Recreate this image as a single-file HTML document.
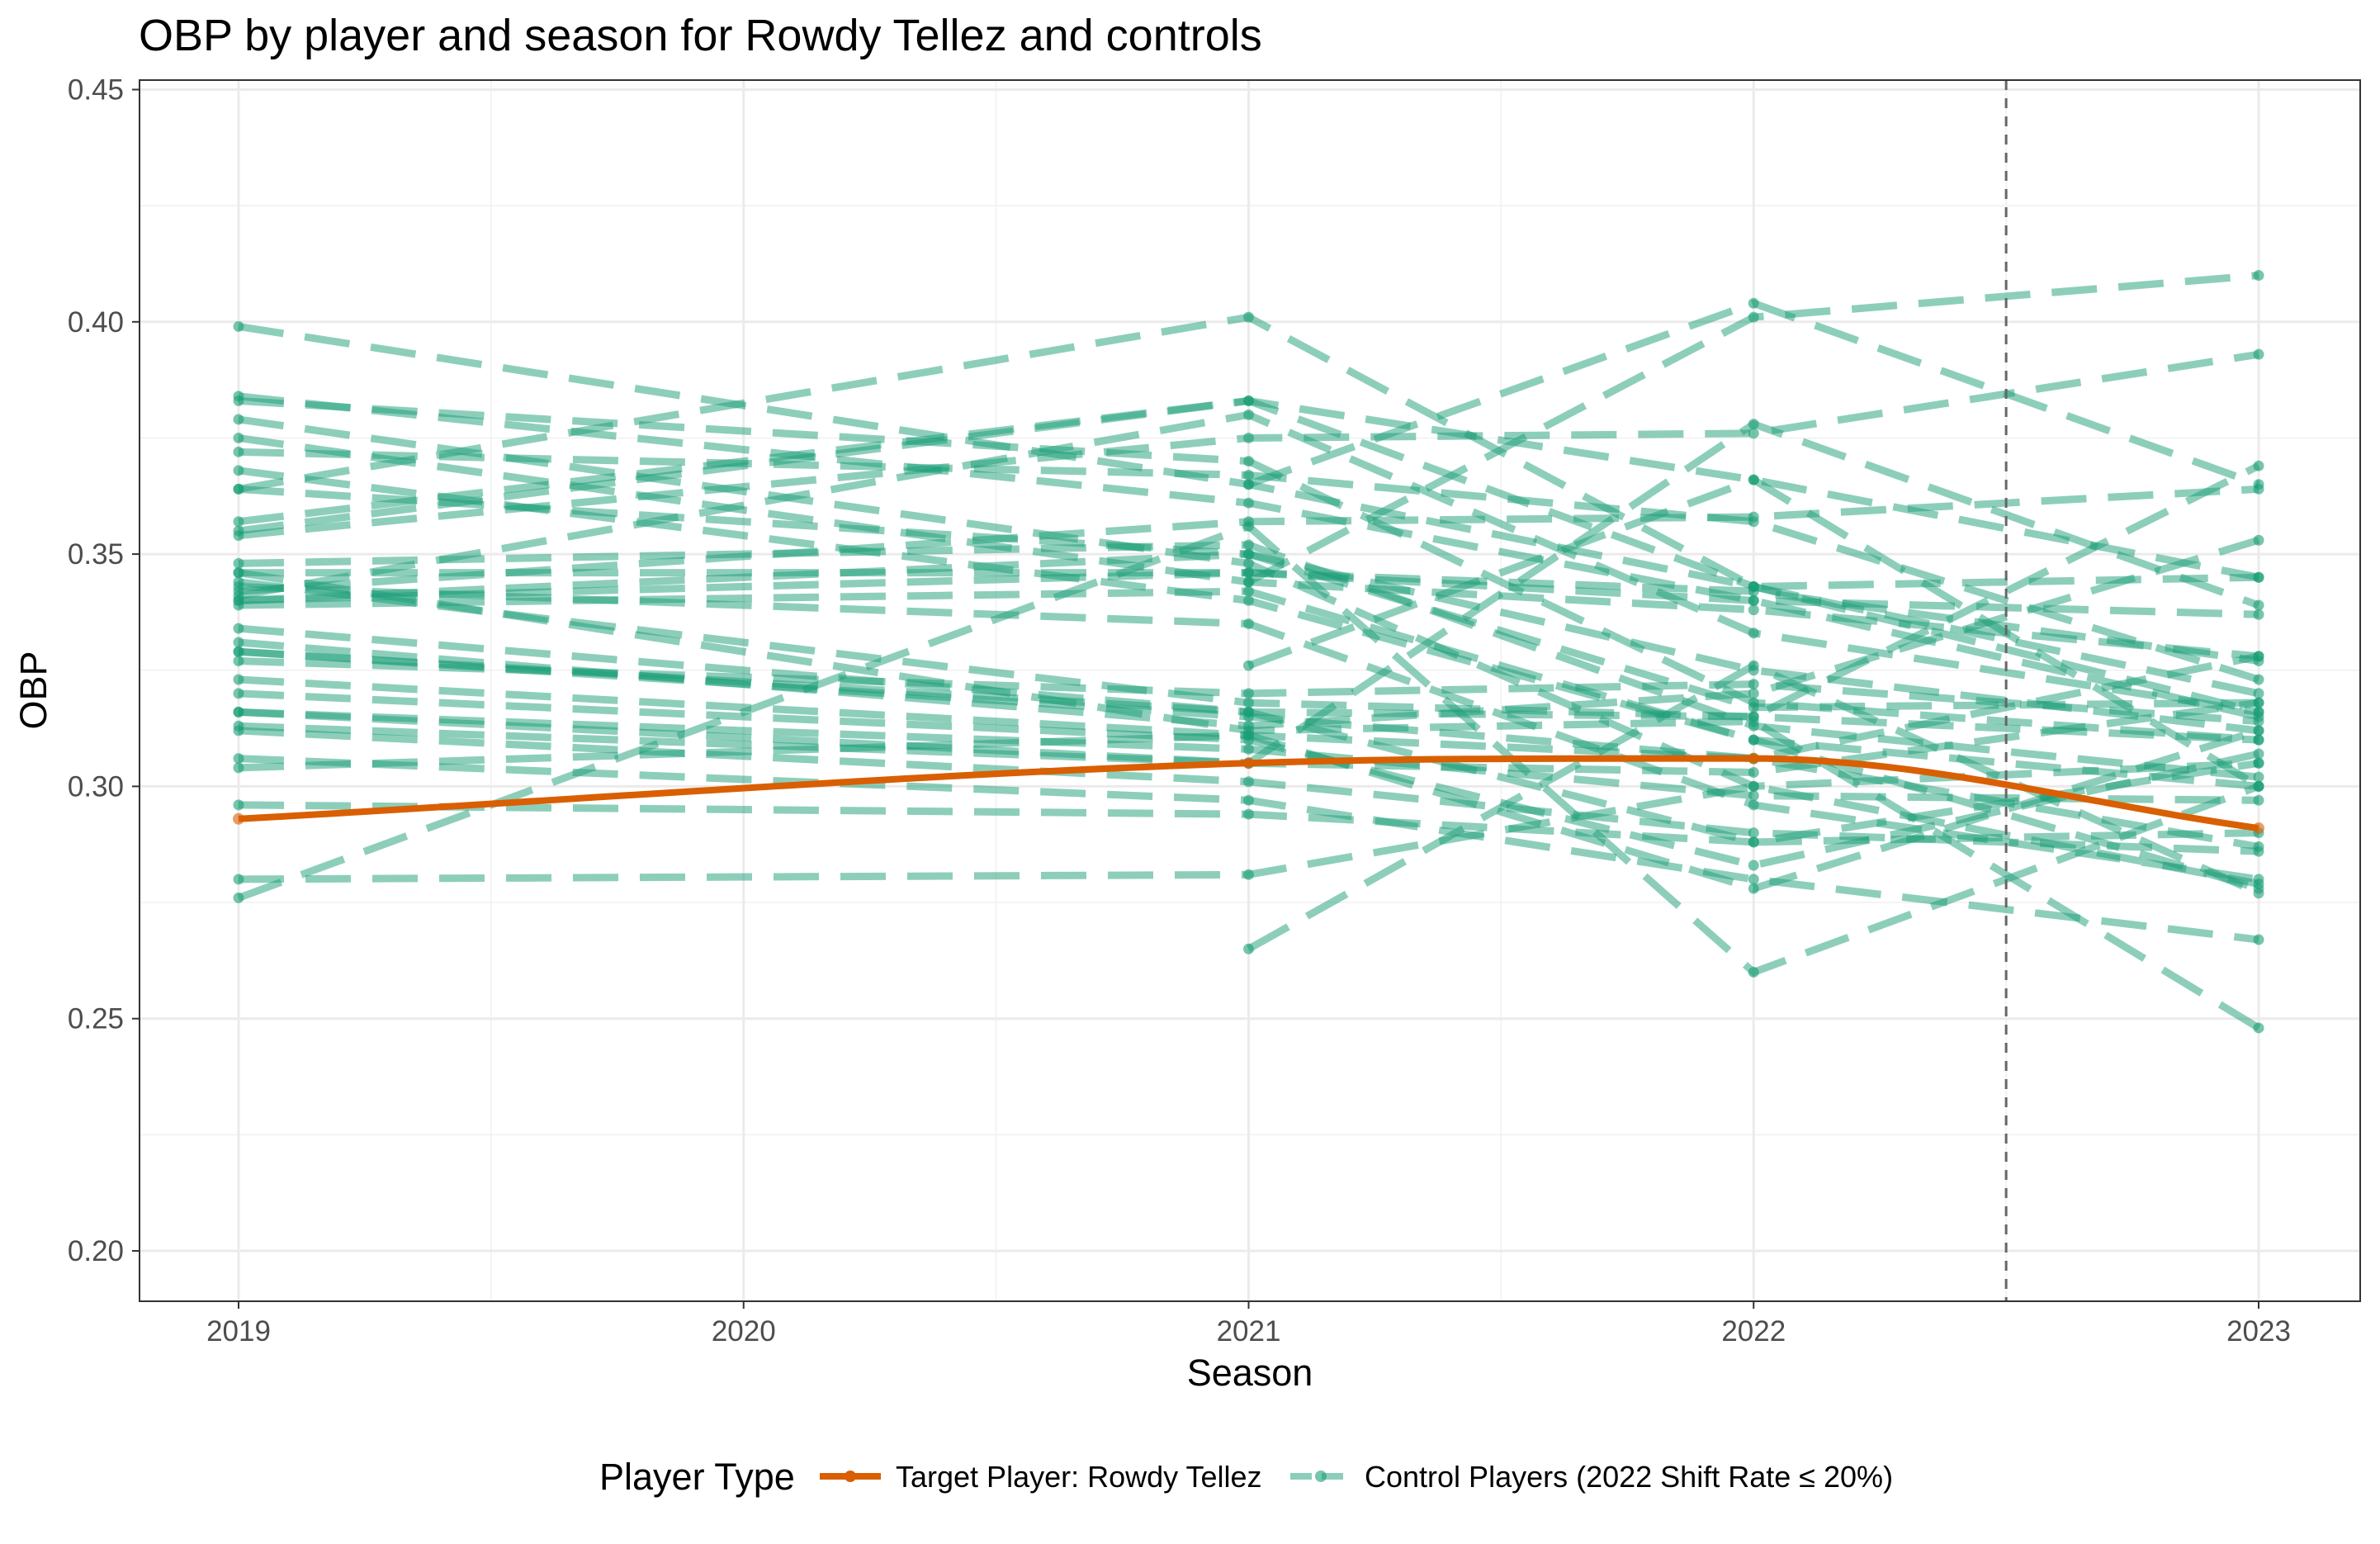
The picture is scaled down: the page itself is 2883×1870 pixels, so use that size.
<!DOCTYPE html>
<html><head><meta charset="utf-8"><style>
html,body{margin:0;padding:0;background:#fff;}
svg{display:block;font-family:"Liberation Sans",Arial,sans-serif;}
</style></head><body>
<svg id="chart" width="2883" height="1870" viewBox="0 0 2883 1870">
<rect x="0" y="0" width="2883" height="1870" fill="#fff"/>
<text x="168" y="61" font-size="54" fill="#000">OBP by player and season for Rowdy Tellez and controls</text>
<g id="grid"></g>
<g id="series"></g>
<rect x="169" y="97" width="2690" height="1479" fill="none" stroke="#333" stroke-width="2"/>
<g id="axes"></g>
<text x="1514" y="1678" font-size="45" text-anchor="middle" fill="#000">Season</text>
<text transform="translate(56,836) rotate(-90)" font-size="45" text-anchor="middle" fill="#000">OBP</text>
<g>
<text x="726" y="1804" font-size="45" fill="#000">Player Type</text>
<g>
<line x1="993" y1="1788" x2="1067" y2="1788" stroke="#d95f02" stroke-width="8"/>
<circle cx="1030" cy="1788" r="7" fill="#d95f02"/>
<text x="1085" y="1801" font-size="36" fill="#000">Target Player: Rowdy Tellez</text>
</g>
<g>
<line x1="1563" y1="1788" x2="1637" y2="1788" stroke="#1b9e77" stroke-opacity="0.5" stroke-width="8" stroke-dasharray="26,12"/>
<circle cx="1600" cy="1788" r="7" fill="#1b9e77" fill-opacity="0.6"/>
<text x="1653" y="1801" font-size="36" fill="#000">Control Players (2022 Shift Rate ≤ 20%)</text>
</g>
</g>
</svg>
<script>
const seasons=[2019,2020,2021,2022,2023];
const yTicks=[0.20,0.25,0.30,0.35,0.40,0.45];
const tellezSeasons=[2019,2021,2022,2023];
const tellezOBP=[0.293,0.305,0.306,0.291];
const controlSeasons=[2019,2021,2022,2023];
const controlOBP=[
[.399,.365,.343,.320],[.384,.361,.340,.315],[.383,.370,.318,.310],[.379,.348,.300,.305],
[.375,.344,.338,.328],[.372,.367,.357,.323],[.368,.340,.310,.300],[.364,.350,.325,.312],
[.357,.383,.343,.316],[.355,.383,.366,.345],[.354,.375,.376,.393],[.348,.352,.313,.302],
[.346,.346,.340,.337],[.344,.318,.315,.369],[.343,.335,.296,.280],[.342,.357,.358,.364],
[.341,.380,.333,.316],[.340,.346,.342,.327],[.339,.342,.310,.278],[.334,.316,.288,.290],
[.331,.313,.320,.353],[.329,.316,.315,.310],[.327,.320,.322,.314],[.323,.311,.306,.328],
[.320,.310,.283,.307],[.316,.308,.298,.297],[.313,.305,.303,.318],[.312,.301,.290,.286],
[.306,.297,.280,.267],[.304,.311,.278,.312],[.296,.294,.288,.305],[.280,.281,.300,.279],
[.276,.356,.260,.300],[.364,.401,.343,.345],[null,.365,.404,.365],[null,.344,.401,.410],
[null,.326,.366,.300],[null,.265,.326,.277],[.316,.305,.378,.339],[.346,.312,.314,.248],
[.329,.315,.306,.287],[.340,.350,.317,.318]
];
const NS='http://www.w3.org/2000/svg';
const X0=169,X1=2859,Y0=97,Y1=1576;
function xs(v){return 289+(v-2019)*(2736-289)/4;}
function ys(v){return 1515-(v-0.20)*(1515-108.5)/0.25;}
function mk(tag,attrs,parent){const e=document.createElementNS(NS,tag);for(const k in attrs)e.setAttribute(k,attrs[k]);parent.appendChild(e);return e;}
const grid=document.getElementById('grid'),axes=document.getElementById('axes'),ser=document.getElementById('series');
mk('rect',{x:X0,y:Y0,width:X1-X0,height:Y1-Y0,fill:'#fff'},grid);
for(let i=0;i<yTicks.length-1;i++){const m=(yTicks[i]+yTicks[i+1])/2;
 const l=mk('line',{x1:X0,x2:X1,y1:ys(m),y2:ys(m),stroke:'#f0f0f0','stroke-width':1.5},grid);
 
 }
for(let i=0;i<seasons.length-1;i++){const m=(seasons[i]+seasons[i+1])/2;
 const l=mk('line',{x1:xs(m),x2:xs(m),y1:Y0,y2:Y1,stroke:'#f0f0f0','stroke-width':1.5},grid);
 
 }
yTicks.forEach(t=>{const l=mk('line',{x1:X0,x2:X1,y1:ys(t),y2:ys(t),stroke:'#ebebeb','stroke-width':3},grid);
 
 
 mk('line',{x1:X0-9,x2:X0,y1:ys(t),y2:ys(t),stroke:'#333','stroke-width':2},axes);
 const tx=mk('text',{x:X0-19,y:ys(t)+12,'font-size':35,'text-anchor':'end',fill:'#4d4d4d'},axes);tx.textContent=t.toFixed(2);
 
 });
seasons.forEach(s=>{const l=mk('line',{x1:xs(s),x2:xs(s),y1:Y0,y2:Y1,stroke:'#ebebeb','stroke-width':3},grid);
 
 
 mk('line',{x1:xs(s),x2:xs(s),y1:Y1,y2:Y1+9,stroke:'#333','stroke-width':2},axes);
 const tx=mk('text',{x:xs(s),y:Y1+48,'font-size':35,'text-anchor':'middle',fill:'#4d4d4d'},axes);tx.textContent=s;
 
 });
controlOBP.forEach((p,i)=>{const pts=[];p.forEach((v,j)=>{if(v!==null)pts.push([xs(controlSeasons[j]),ys(v)]);});
 const g=mk('g',{},ser);
 
 
 mk('polyline',{points:pts.map(q=>q.join(',')).join(' '),fill:'none',stroke:'#1b9e77','stroke-opacity':0.5,'stroke-width':9,'stroke-dasharray':'55,26'},g);
 pts.forEach(q=>mk('circle',{cx:q[0],cy:q[1],r:6.5,fill:'#1b9e77','fill-opacity':0.6},g));});
// Tellez: monotone cubic
const tp=tellezOBP.map((v,j)=>[xs(tellezSeasons[j]),ys(v)]);
const n=tp.length,dl=[],m=[];
for(let i=0;i<n-1;i++)dl.push((tp[i+1][1]-tp[i][1])/(tp[i+1][0]-tp[i][0]));
m[0]=dl[0];m[n-1]=dl[n-2];
for(let i=1;i<n-1;i++){m[i]=(dl[i-1]*dl[i]<=0)?0:(dl[i-1]+dl[i])/2;}
let d='M'+tp[0].join(',');
for(let i=0;i<n-1;i++){const h=tp[i+1][0]-tp[i][0];
 d+=' C'+(tp[i][0]+h/3)+','+(tp[i][1]+m[i]*h/3)+' '+(tp[i+1][0]-h/3)+','+(tp[i+1][1]-m[i+1]*h/3)+' '+tp[i+1].join(',');}
const tg=mk('g',{},ser);


mk('path',{d:d,fill:'none',stroke:'#d95f02','stroke-width':8},tg);
tp.forEach(q=>mk('circle',{cx:q[0],cy:q[1],r:7,fill:'#d95f02','fill-opacity':0.6},tg));
const vl=mk('line',{x1:xs(2022.5),x2:xs(2022.5),y1:Y0,y2:Y1,stroke:'#666','stroke-width':3,'stroke-dasharray':'12,10'},ser);


</script>
</body></html>
